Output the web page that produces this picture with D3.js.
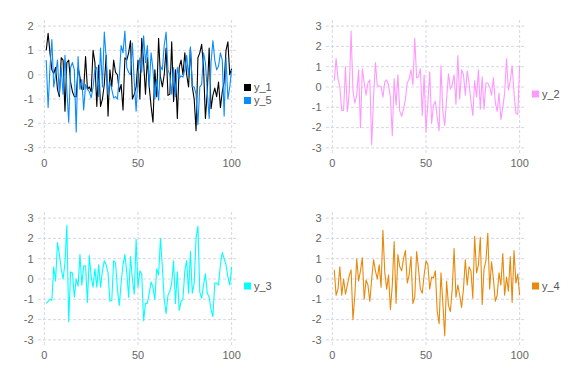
<!DOCTYPE html>
<html><head><meta charset="utf-8">
<script src="https://cdn.jsdelivr.net/npm/d3@7"></script>
<style>body{margin:0;background:#fff}svg{display:block}</style>
</head><body>
<svg id="c" width="576" height="384"></svg>
<script>
const y1 = [1.0,1.7,0.9,0.2,0.05,0.3,-0.6,-0.9,0.7,0.6,-1.5,0.5,0.6,-0.3,-0.7,-0.9,-0.9,0.3,-0.1,-0.6,-0.6,0.75,-0.6,-0.5,-0.7,1.0,0.5,-1.3,0.4,-1.3,-1.0,-0.4,0.8,-1.7,0.2,-0.5,0.6,0.1,0.0,-0.7,-0.4,-1.45,0.7,0.6,0.9,1.4,-1.0,-0.8,-0.5,0.6,-1.0,1.5,0.5,-0.8,0.7,-0.5,-1.3,-1.95,0.2,-0.9,1.5,-0.1,-0.5,0.0,1.1,-0.85,-0.8,1.35,-1.1,0.2,-1.8,0.3,0.6,0.0,0.9,0.0,-0.5,1.1,-0.5,-1.0,-2.3,0.7,0.9,1.25,0.3,-1.8,-0.7,1.1,-1.4,-0.85,-0.55,-0.9,-0.3,-1.35,-0.7,-0.3,1.0,1.35,0.0,0.25];
const y5 = [0.6,-1.35,0.3,1.45,-0.5,0.0,0.6,-0.8,0.3,-0.8,0.8,-0.6,-1.95,0.3,0.5,0.2,-2.35,0.75,-0.6,-0.2,-1.45,-0.4,-0.6,-0.7,-0.95,-0.5,0.2,0.3,-0.9,1.1,-0.5,1.75,0.7,-0.8,-0.3,-0.6,-0.95,-0.9,-1.0,-0.1,1.2,0.9,1.8,0.3,0.1,0.0,1.3,-0.3,-1.5,0.0,0.7,0.1,1.6,0.5,1.2,-0.5,0.9,0.2,-1.0,-0.2,-1.05,0.35,0.2,1.2,1.75,0.2,0.0,-0.8,0.3,-0.9,0.3,-0.15,-0.05,-0.1,0.2,0.8,-0.1,1.15,-0.5,-0.5,-0.8,-2.05,-0.5,-0.4,0.9,0.5,-0.7,-1.8,0.5,1.4,0.6,0.2,0.35,0.9,0.6,-1.7,0.7,-1.0,-0.5,0.2];
const y2 = [0.3,1.4,0.4,0.0,-1.15,-1.15,1.0,-1.2,-0.3,2.75,-0.2,-0.8,-0.4,0.85,-2.0,0.9,0.2,-0.4,0.2,0.35,-2.85,-0.5,1.2,0.05,0.05,0.0,-0.5,0.25,0.35,0.1,-0.5,-2.4,0.4,-0.9,0.6,-1.2,-1.45,-1.1,-0.6,0.2,0.4,0.85,0.1,2.4,0.45,0.5,0.9,-1.4,0.6,-2.2,-0.8,0.75,-1.8,-0.9,-0.7,-1.5,-2.15,1.05,-1.2,-1.9,-0.6,0.65,-0.1,0.1,0.6,-0.85,1.55,-0.6,0.85,0.6,-0.4,0.8,0.2,-0.7,-1.4,0.3,-0.5,0.85,-1.1,0.5,-1.1,0.2,0.2,0.0,-0.4,0.45,-0.75,-1.2,-0.3,-1.6,-1.0,-0.3,1.4,-0.15,0.3,1.05,-0.3,-1.3,-1.35,1.05];
const y3 = [-1.2,-1.1,-1.0,-1.05,0.6,-0.1,1.8,1.2,0.5,0.0,0.8,2.65,-2.1,0.35,0.3,-0.9,0.0,-0.35,1.2,-0.3,0.65,0.65,-1.15,1.15,0.1,-0.4,0.5,-0.4,0.7,-0.4,0.4,0.9,0.7,0.3,-1.1,-1.05,0.9,0.8,-0.5,-1.3,-0.2,0.7,1.2,0.35,-0.9,1.1,0.0,-0.75,1.95,-0.4,0.4,0.25,-2.05,-1.2,-1.2,-0.7,-0.15,-0.4,-1.0,0.5,0.2,2.0,0.6,-1.0,-1.7,-0.8,-0.6,-0.2,0.9,-1.2,0.35,-1.55,-1.1,-1.0,0.4,0.9,-0.7,1.35,-0.7,-0.2,2.0,2.6,-0.65,-0.95,-0.3,0.25,-0.7,-0.9,-1.5,-1.85,-0.2,-0.2,-0.3,0.7,1.3,1.0,0.7,0.1,-0.3,0.6];
const y4 = [0.45,-0.8,-0.5,0.6,-0.8,0.0,-0.75,-0.3,0.15,0.45,-2.0,-0.8,1.0,-0.1,0.4,1.05,-1.0,-0.05,-0.3,-1.1,0.0,0.95,0.4,0.0,0.7,-0.4,2.4,0.3,-0.5,0.2,-1.5,-0.3,1.85,-1.2,1.2,0.6,0.4,1.0,1.4,-0.2,0.2,1.1,-1.2,-0.9,1.35,0.5,-0.5,-0.7,0.2,0.9,0.7,-0.5,0.1,0.05,0.4,-1.6,-2.2,0.3,-1.2,-2.8,-0.1,-1.3,-1.6,-0.5,1.5,-0.9,-0.3,-0.8,-1.4,-0.5,0.95,-0.3,0.6,0.4,-0.95,2.1,0.3,0.7,2.05,-1.25,0.5,0.9,2.25,-0.5,0.85,0.0,-1.1,-0.8,0.3,-0.3,1.25,-0.8,0.1,-0.6,1.1,-1.15,1.4,-0.2,0.25,-0.8];
const xTicks = [0,50,100];
const yTicksA = [2,1,0,-1,-2,-3];
const yTicksB = [3,2,1,0,-1,-2,-3];

const panels = [
  {ox:0, oy:0, ydom:[-3.3,2.25], yticks:yTicksA, series:[{name:"y_1",v:y1,c:"#000000"},{name:"y_5",v:y5,c:"#0a8cff"}]},
  {ox:288, oy:0, ydom:[-3.35,3.3], yticks:yTicksB, series:[{name:"y_2",v:y2,c:"#ff99ff"}]},
  {ox:0, oy:192, ydom:[-3.35,3.3], yticks:yTicksB, series:[{name:"y_3",v:y3,c:"#00ffff"}]},
  {ox:288, oy:192, ydom:[-3.35,3.3], yticks:yTicksB, series:[{name:"y_4",v:y4,c:"#e8890c"}]}
];
const svg = d3.select("#c");
const font = "'Liberation Sans', Arial, Helvetica, sans-serif";
const grid = "#d2d2e2";
panels.forEach(p => {
  const g = svg.append("g").attr("transform", `translate(${p.ox},${p.oy})`);
  const x = d3.scaleLinear().domain([-3.4,103.4]).range([38,238]);
  const y = d3.scaleLinear().domain(p.ydom).range([155,20]);
  g.selectAll(".hg").data(p.yticks).join("line")
    .attr("x1",38).attr("x2",238).attr("y1",d=>y(d)).attr("y2",d=>y(d))
    .attr("stroke",grid).attr("stroke-width",0.9).attr("stroke-dasharray","3,2");
  g.selectAll(".vg").data(xTicks).join("line")
    .attr("x1",d=>x(d)).attr("x2",d=>x(d)).attr("y1",20).attr("y2",155)
    .attr("stroke",grid).attr("stroke-width",0.9).attr("stroke-dasharray","3,2");
  g.selectAll(".yl").data(p.yticks).join("text")
    .attr("x",33.5).attr("y",d=>y(d)).attr("dy","0.35em").attr("text-anchor","end")
    .attr("font-family",font).attr("font-size",11).attr("fill","#666").text(d=>d);
  g.selectAll(".xl").data(xTicks).join("text")
    .attr("x",d=>x(d)).attr("y",167).attr("text-anchor","middle")
    .attr("font-family",font).attr("font-size",11).attr("fill","#666").text(d=>d);
  const line = d3.line().x((d,i)=>x(i+1)).y(d=>y(d));
  p.series.forEach(s => {
    g.append("path").datum(s.v).attr("d",line).attr("fill","none")
      .attr("stroke",s.c).attr("stroke-width",1.1).attr("stroke-linejoin","round");
  });
  const n = p.series.length;
  const ly0 = 94 - (n-1)*13/2;
  p.series.forEach((s,i) => {
    const yy = ly0 + i*13;
    g.append("rect").attr("x",244).attr("y",yy-3.5).attr("width",7).attr("height",7).attr("fill",s.c);
    g.append("text").attr("x",254).attr("y",yy).attr("dy","0.35em")
      .attr("font-family",font).attr("font-size",11).attr("fill","#555").text(s.name);
  });
});
</script>
</body></html>
